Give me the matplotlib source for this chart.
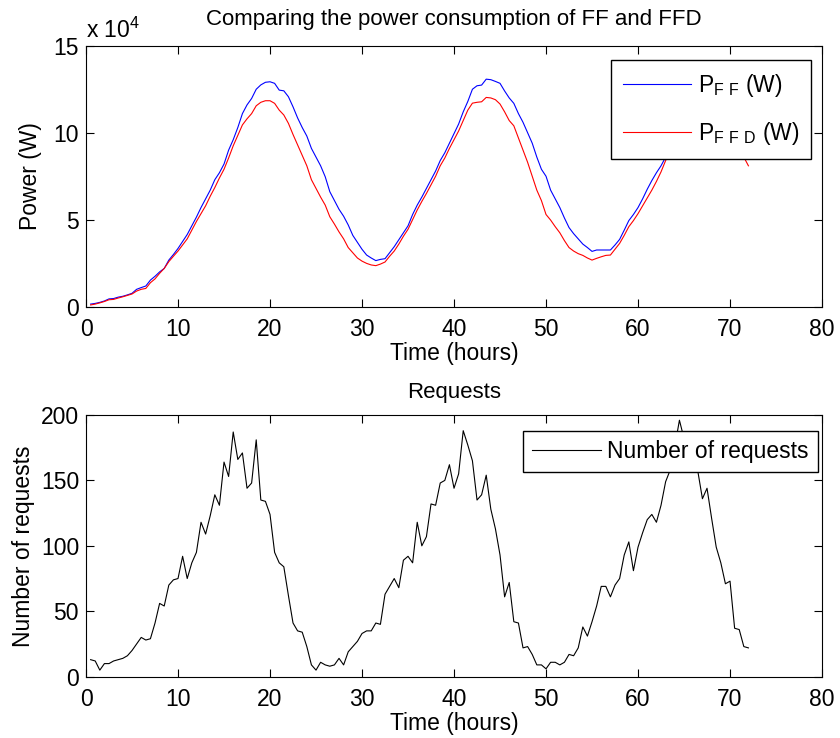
import numpy as np
import matplotlib
matplotlib.use('Agg')
import matplotlib.pyplot as plt

plt.rcParams['font.family'] = ['Liberation Sans', 'DejaVu Sans']
plt.rcParams['mathtext.fontset'] = 'custom'
plt.rcParams['mathtext.rm'] = 'Liberation Sans'

# time axis: one sample every half hour
hours = np.arange(0.5, 72.01, 0.5)

# power of FF, in units of 10^4 W
p_ff = [0.15, 0.19, 0.25, 0.33, 0.45, 0.47, 0.55, 0.60, 0.68, 0.77,
        1.00, 1.10, 1.19, 1.53, 1.75, 2.00, 2.20, 2.68, 3.00, 3.35,
        3.75, 4.15, 4.65, 5.15, 5.70, 6.20, 6.70, 7.30, 7.70, 8.20,
        9.00, 9.60, 10.30, 11.10, 11.60, 11.97, 12.50, 12.75, 12.90, 12.93,
        12.84, 12.45, 12.41, 12.07, 11.49, 10.85, 10.30, 9.81, 9.10, 8.60,
        8.10, 7.47, 6.61, 6.10, 5.60, 5.20, 4.70, 4.10, 3.70, 3.30,
        2.97, 2.80, 2.65, 2.72, 2.76, 3.10, 3.45, 3.85, 4.25, 4.65,
        5.30, 5.84, 6.30, 6.80, 7.30, 7.80, 8.40, 8.85, 9.40, 9.95,
        10.50, 11.20, 11.80, 12.50, 12.70, 12.74, 13.08, 13.05, 12.95, 12.84,
        12.40, 12.00, 11.69, 11.10, 10.60, 10.00, 9.40, 8.60, 7.90, 7.50,
        6.70, 6.20, 5.70, 5.10, 4.55, 4.20, 3.90, 3.60, 3.40, 3.18,
        3.26, 3.26, 3.26, 3.26, 3.55, 3.87, 4.40, 4.95, 5.30, 5.70,
        6.20, 6.75, 7.25, 7.70, 8.10, 8.60, 9.30, 9.90, 10.50, 11.10,
        11.70, 12.20, 12.60, 12.90, 13.00, 12.90, 12.60, 12.20, 11.70, 11.10,
        10.60, 10.10, 9.60, 9.10]

# power of FFD, in units of 10^4 W
p_ffd = [0.10, 0.15, 0.22, 0.30, 0.40, 0.42, 0.50, 0.57, 0.65, 0.73,
         0.90, 1.00, 1.05, 1.38, 1.60, 1.92, 2.20, 2.59, 2.90, 3.20,
         3.55, 3.90, 4.40, 4.90, 5.35, 5.80, 6.35, 6.85, 7.40, 7.90,
         8.55, 9.25, 9.85, 10.45, 10.80, 11.10, 11.55, 11.75, 11.84, 11.84,
         11.69, 11.30, 11.02, 10.54, 9.90, 9.30, 8.70, 8.10, 7.30, 6.80,
         6.30, 5.84, 5.17, 4.75, 4.30, 3.90, 3.40, 3.10, 2.80, 2.62,
         2.49, 2.40, 2.36, 2.45, 2.57, 2.90, 3.20, 3.60, 4.05, 4.45,
         5.00, 5.56, 6.05, 6.51, 7.00, 7.50, 8.10, 8.55, 9.10, 9.60,
         10.10, 10.70, 11.30, 11.70, 11.75, 11.78, 12.03, 12.00, 11.90, 11.65,
         11.20, 10.70, 10.40, 9.70, 9.00, 8.30, 7.50, 6.70, 6.10, 5.30,
         4.98, 4.60, 4.25, 3.80, 3.40, 3.20, 3.05, 2.95, 2.80, 2.68,
         2.78, 2.87, 2.95, 2.97, 3.30, 3.64, 4.10, 4.60, 4.95, 5.35,
         5.80, 6.25, 6.70, 7.20, 7.75, 8.40, 8.90, 9.40, 9.90, 10.40,
         10.90, 11.30, 11.60, 11.85, 11.95, 11.90, 11.65, 11.30, 10.80, 10.20,
         9.60, 9.00, 8.60, 8.10]

requests = [13, 12, 5, 10, 10, 12, 13, 14, 16, 20,
            25, 30, 28, 29, 41, 56, 54, 70, 74, 75,
            92, 75, 87, 95, 118, 109, 123, 139, 131, 164,
            153, 187, 166, 171, 144, 148, 181, 135, 134, 124,
            95, 87, 84, 62, 41, 35, 34, 23, 9, 5,
            11, 9, 8, 9, 14, 9, 19, 23, 27, 33,
            35, 35, 41, 40, 63, 69, 75, 68, 89, 92,
            87, 118, 100, 107, 132, 131, 148, 150, 162, 144,
            155, 188, 177, 165, 135, 139, 154, 128, 113, 93,
            61, 72, 42, 41, 22, 23, 17, 9, 9, 6,
            11, 11, 9, 11, 17, 16, 22, 38, 31, 42,
            54, 69, 69, 61, 70, 75, 93, 103, 81, 99,
            110, 120, 124, 118, 131, 149, 158, 176, 196, 182,
            172, 164, 157, 136, 144, 121, 99, 87, 71, 73,
            37, 36, 23, 22]

fs = 16.5
fig = plt.figure(figsize=(8.4, 7.38), dpi=100)
ax1 = fig.add_axes([0.1024, 0.5844, 0.8762, 0.3536])
ax2 = fig.add_axes([0.1024, 0.0831, 0.8762, 0.3546])

ax1.plot(hours, p_ff, color='blue', lw=0.8, label=r'P$_{\mathrm{F\ F}}$ (W)')
ax1.plot(hours, p_ffd, color='red', lw=0.8, label=r'P$_{\mathrm{F\ F\ D}}$ (W)')
ax1.set_xlim(0, 80)
ax1.set_ylim(0, 15)
ax1.set_yticks([0, 5, 10, 15])
ax1.set_xlabel('Time (hours)', fontsize=fs, labelpad=1)
ax1.set_ylabel('Power (W)', fontsize=fs, labelpad=8)
ax1.set_title('Comparing the power consumption of FF and FFD', fontsize=16, pad=15)
ax1.text(0, 1.012, r'x 10$^{4}$', transform=ax1.transAxes, fontsize=fs, va='bottom')
ax1.legend(loc='upper right', bbox_to_anchor=(0.985, 0.945), borderaxespad=0,
           fancybox=False, edgecolor='black', framealpha=1, fontsize=fs,
           handlelength=3.0, labelspacing=0.95, borderpad=0.5, handletextpad=0.3)

ax2.plot(hours, requests, color='black', lw=0.8, label='Number of requests')
ax2.set_xlim(0, 80)
ax2.set_ylim(0, 200)
ax2.set_xlabel('Time (hours)', fontsize=fs, labelpad=1)
ax2.set_ylabel('Number of requests', fontsize=fs, labelpad=4)
ax2.set_title('Requests', fontsize=16, pad=12)
ax2.legend(loc='upper right', bbox_to_anchor=(0.9946, 0.94), borderaxespad=0,
           fancybox=False, edgecolor='black', framealpha=1, fontsize=fs,
           handlelength=3.0, borderpad=0.4, handletextpad=0.3)

for ax in (ax1, ax2):
    ax.set_xticks(range(0, 81, 10))
    ax.tick_params(direction='in', top=True, right=True, length=5.5,
                   width=0.8, labelsize=fs, pad=5)
    ax.tick_params(axis='x', pad=8)
    for s in ax.spines.values():
        s.set_linewidth(0.8)

fig.savefig('out.png', dpi=100)
